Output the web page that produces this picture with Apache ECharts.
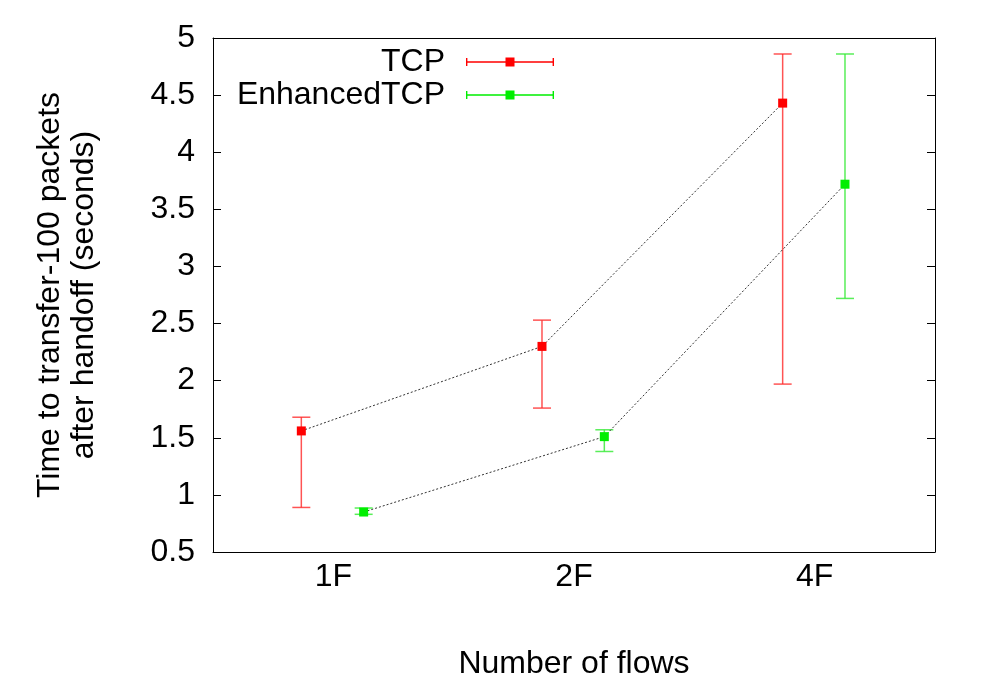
<!DOCTYPE html>
<html>
<head>
<meta charset="utf-8">
<script src="https://cdn.jsdelivr.net/npm/echarts@6/dist/echarts.min.js"></script>
<style>
  html, body { margin: 0; padding: 0; background: #fff; }
  #chart { width: 989px; height: 693px; }
</style>
</head>
<body>
<div id="chart"></div>
<script>
// flows on the x axis
const flows = ['1F', '2F', '4F']

// TCP: mean and error range
const tcpMean = [1.56, 2.30, 4.43]
const tcpLow = [0.89, 1.76, 1.97]
const tcpHigh = [1.68, 2.53, 4.86]

// EnhancedTCP: mean and error range
const encMean = [0.85, 1.51, 3.72]
const encLow = [0.83, 1.38, 2.72]
const encHigh = [0.885, 1.57, 4.86]

const yTicks = [0.5, 1, 1.5, 2, 2.5, 3, 3.5, 4, 4.5, 5]

// the two groups sit a bit left / right of the category centre
const tcpShift = -0.133
const encShift = 0.126

const font = 'Liberation Sans, Arial, Helvetica, sans-serif'
const fs = 32

function points(mean, shift) {
    return mean.map((v, i) => [i + 1 + shift, v])
}
function bars(low, high, shift) {
    return low.map((v, i) => [i + 1 + shift, v, high[i]])
}

// error bar: vertical stroke + two caps
function errBar(color, cap) {
    return function (params, api) {
        const x = api.value(0)
        const lo = api.coord([x, api.value(1)])
        const hi = api.coord([x, api.value(2)])
        const style = { stroke: color, lineWidth: 1.5 }
        return {
            type: 'group',
            children: [
                { type: 'line', shape: { x1: lo[0], y1: lo[1], x2: hi[0], y2: hi[1] }, style: style },
                { type: 'line', shape: { x1: lo[0] - cap, y1: lo[1], x2: lo[0] + cap, y2: lo[1] }, style: style },
                { type: 'line', shape: { x1: hi[0] - cap, y1: hi[1], x2: hi[0] + cap, y2: hi[1] }, style: style }
            ]
        }
    }
}

// legend sample: line with caps and a square in the middle
const legendIcon = 'path://M0,4.3 H88 V5.7 H0 Z M0,1 H1.4 V9 H0 Z M86.6,1 H88 V9 H86.6 Z M39.5,0.5 H48.5 V9.5 H39.5 Z'

function legendFor(name, color, top) {
    return {
        data: [{ name: name, icon: legendIcon, itemStyle: { color: color, borderWidth: 0 } }],
        right: 435,
        top: top,
        itemWidth: 88,
        itemHeight: 10,
        align: 'right',
        selectedMode: false,
        padding: 0,
        textStyle: { fontFamily: font, fontSize: fs, color: '#000', padding: [0, 16, 0, 0] }
    }
}

const myChart = echarts.init(document.getElementById('chart'), null, { renderer: 'canvas' })

myChart.setOption({
    backgroundColor: '#fff',
    animation: false,
    legend: [legendFor('TCP', '#ff0000', 46), legendFor('EnhancedTCP', '#00ee00', 79)],
    grid: { left: 213, right: 54, top: 38, bottom: 141 },
    xAxis: [
        {
            type: 'category',
            data: flows,
            boundaryGap: true,
            name: 'Number of flows',
            nameLocation: 'middle',
            nameGap: 96,
            nameTextStyle: { fontFamily: font, fontSize: fs, color: '#000' },
            axisLine: { lineStyle: { color: '#000', width: 1 } },
            axisTick: { inside: true, length: 10, lineStyle: { color: '#000' } },
            axisLabel: { fontFamily: font, fontSize: fs, color: '#000', margin: 9 },
            splitLine: { show: false }
        },
        {
            type: 'category',
            data: flows,
            position: 'top',
            boundaryGap: true,
            axisLine: { lineStyle: { color: '#000', width: 1 } },
            axisTick: { inside: true, length: 10, lineStyle: { color: '#000' } },
            axisLabel: { show: false },
            splitLine: { show: false }
        },
        {
            type: 'value',
            min: 0.5,
            max: 3.5,
            show: false
        }
    ],
    yAxis: [
        {
            type: 'value',
            min: yTicks[0],
            max: yTicks[yTicks.length - 1],
            interval: 0.5,
            name: 'Time to transfer-100 packets\nafter handoff (seconds)',
            nameLocation: 'middle',
            nameGap: 112,
            nameTextStyle: { fontFamily: font, fontSize: fs, color: '#000', lineHeight: 34 },
            axisLine: { show: true, lineStyle: { color: '#000', width: 1 } },
            axisTick: { show: true, inside: true, length: 8, lineStyle: { color: '#000' } },
            axisLabel: { fontFamily: font, fontSize: fs, color: '#000', margin: 18 },
            splitLine: { show: false }
        },
        {
            type: 'value',
            position: 'right',
            min: yTicks[0],
            max: yTicks[yTicks.length - 1],
            interval: 0.5,
            axisLine: { show: true, lineStyle: { color: '#000', width: 1 } },
            axisTick: { show: true, inside: true, length: 8, lineStyle: { color: '#000' } },
            axisLabel: { show: false },
            splitLine: { show: false }
        }
    ],
    series: [
        {
            name: 'TCP',
            type: 'custom',
            xAxisIndex: 2,
            yAxisIndex: 0,
            itemStyle: { color: '#ff0000' },
            renderItem: errBar('rgba(255,40,40,0.8)', 9),
            data: bars(tcpLow, tcpHigh, tcpShift),
            z: 2
        },
        {
            name: 'EnhancedTCP',
            type: 'custom',
            xAxisIndex: 2,
            yAxisIndex: 0,
            itemStyle: { color: '#00ee00' },
            renderItem: errBar('rgba(60,235,60,0.85)', 9),
            data: bars(encLow, encHigh, encShift),
            z: 2
        },
        {
            name: 'TCP',
            type: 'line',
            xAxisIndex: 2,
            yAxisIndex: 0,
            data: points(tcpMean, tcpShift),
            symbol: 'rect',
            symbolSize: 9,
            itemStyle: { color: '#ff0000' },
            lineStyle: { color: '#333', width: 1, type: [2, 2] },
            z: 3
        },
        {
            name: 'EnhancedTCP',
            type: 'line',
            xAxisIndex: 2,
            yAxisIndex: 0,
            data: points(encMean, encShift),
            symbol: 'rect',
            symbolSize: 9,
            itemStyle: { color: '#00ee00' },
            lineStyle: { color: '#333', width: 1, type: [2, 2] },
            z: 3
        }
    ]
})
</script>
</body>
</html>
